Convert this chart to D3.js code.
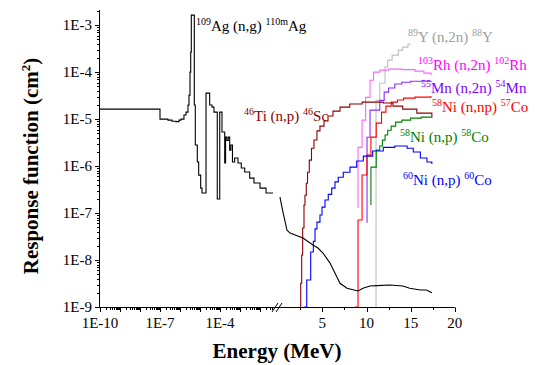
<!DOCTYPE html>
<html>
<head>
<meta charset="utf-8">
<script src="https://cdn.jsdelivr.net/npm/d3@7"></script>
<style>
  body { margin: 0; background: #fff; }
  text { font-family: "Liberation Serif", "Times New Roman", Times, "DejaVu Serif", serif; }
</style>
</head>
<body>
<div id="chart"></div>
<script>
// Energy in MeV, response in cm^2

// 109Ag (n,g) 110mAg, low-energy part (log axis)
const agLowE = [1e-10, 1e-7, 2.5e-7, 4.0e-7, 6.3e-7, 8.9e-7, 1.12e-6, 1.58e-6, 2.0e-6, 2.51e-6,
  2.82e-6, 3.16e-6, 3.43e-6, 3.67e-6, 5.19e-6, 5.82e-6, 7.33e-6, 8.6e-6, 1.08e-5, 1.26e-5,
  2.0e-5, 3.05e-5, 3.98e-5, 5.0e-5, 7.3e-5, 9.7e-5, 1.26e-4, 1.72e-4, 1.9e-4, 2.2e-4,
  2.6e-4, 3.05e-4, 3.5e-4, 4.2e-4, 5.4e-4, 7.9e-4, 1.16e-3, 1.72e-3, 3.05e-3, 5.0e-3,
  1.0e-2, 2.0e-2, 4.5e-2];
const agLowR = [1.63e-5, 1.0e-5, 9.5e-6, 9.0e-6, 8.85e-6, 9.5e-6, 1.0e-5, 1.22e-5, 1.41e-5, 1.99e-5,
  3.24e-5, 1.0e-4, 2.67e-4, 1.63e-3, 1.99e-5, 2.8e-6, 1.22e-6, 6.4e-7, 3.4e-7, 2.67e-7,
  3.57e-5, 1.99e-5, 1.8e-5, 1.41e-5, 1.99e-7, 1.41e-5, 5.3e-6, 1.16e-6, 4.14e-6, 3.5e-6,
  4.14e-6, 2.19e-6, 2.8e-6, 1.22e-6, 1.48e-6, 1.16e-6, 9.1e-7, 7.45e-7, 5.55e-7, 4.35e-7,
  3.4e-7, 2.67e-7, 2.67e-7];

// 109Ag (n,g) 110mAg, fast part (linear axis)
const agHighE = [0.2, 0.54, 1.0, 1.34, 2.81, 3.94, 4.5, 5.07, 5.87, 6.66, 7.0, 7.79, 9.04, 9.6,
  10.4, 11.2, 12.66, 14.1, 14.9, 16.1, 16.8, 17.4];
const agHighR = [2.19e-7, 1.05e-7, 4.3e-8, 3.75e-8, 2.95e-8, 2.09e-8, 1.8e-8, 1.41e-8, 8.6e-9, 4.3e-9,
  3.2e-9, 2.5e-9, 2.19e-9, 2.5e-9, 2.8e-9, 2.85e-9, 2.94e-9, 2.8e-9, 2.5e-9, 2.3e-9, 2.3e-9, 2.0e-9];

// 46Ti (n,p) 46Sc
const tiE = [2.55, 2.55, 2.66, 2.77, 2.92, 3.03, 3.18, 3.32, 3.52, 3.77, 4.05, 4.39, 4.73, 5.19,
  5.64, 6.2, 7.0, 8.1, 9.5, 10.7, 11.9, 13.0, 14.1, 15.7, 17.4];
const tiR = [1e-9, 3.2e-9, 1.28e-8, 4.8e-8, 1.48e-7, 2.4e-7, 4.3e-7, 7.4e-7, 1.34e-6, 2.4e-6, 3.6e-6,
  5.6e-6, 7.1e-6, 9.1e-6, 1.16e-5, 1.48e-5, 1.8e-5, 2.1e-5, 2.3e-5, 2.3e-5, 2.2e-5, 1.89e-5,
  1.63e-5, 1.34e-5, 1.05e-5];

// 60Ni (n,p) 60Co
const ni60E = [2.98, 3.23, 3.68, 3.98, 4.17, 4.39, 4.73, 4.96, 5.3, 5.67, 6.06, 6.43, 6.8, 7.37,
  8.13, 8.89, 9.64, 10.7, 11.9, 13.2, 14.6, 15.3, 16.1, 16.85, 17.4];
const ni60R = [1e-9, 3.75e-9, 1.48e-8, 2.5e-8, 4.6e-8, 6.4e-8, 9.1e-8, 1.34e-7, 1.89e-7, 2.5e-7,
  3.4e-7, 4.6e-7, 5.8e-7, 7.4e-7, 9.5e-7, 1.28e-6, 1.63e-6, 2.09e-6, 2.5e-6, 2.67e-6, 2.4e-6,
  1.99e-6, 1.48e-6, 1.22e-6, 1.1e-6];

// 58Ni (n,np) 57Co
const ninpE = [8.7, 9.04, 9.5, 10.05, 10.5, 11.1, 11.7, 12.2, 12.8, 13.5, 14.2, 15.5, 17.3];
const ninpR = [1e-9, 7.1e-8, 6.45e-7, 1.71e-6, 4.14e-6, 8.2e-6, 1.41e-5, 1.89e-5, 2.3e-5, 2.54e-5,
  2.8e-5, 2.94e-5, 3.1e-5];

// 58Ni (n,p) 58Co (high-energy part shown)
const ni58E = [10.5, 10.5, 11.1, 11.5, 11.8, 12.1, 12.4, 12.8, 13.3, 14.0, 15.0, 16.2, 17.3];
const ni58R = [1.48e-7, 9.5e-7, 2.19e-6, 2.67e-6, 3.57e-6, 4.57e-6, 5.8e-6, 7.1e-6, 8.6e-6, 9.5e-6,
  1.05e-5, 1.1e-5, 1.1e-5];

// 103Rh (n,2n) 102Rh
const rhE = [9.04, 9.04, 9.5, 9.9, 10.4, 10.8, 11.5, 12.5, 14.0, 15.5, 16.5, 17.3];
const rhR = [1.3e-7, 2.5e-6, 9.5e-6, 2.9e-5, 6.7e-5, 1.0e-4, 1.1e-4, 1.16e-4, 1.13e-4, 1.05e-4,
  9.5e-5, 8.7e-5];

// 55Mn (n,2n) 54Mn
const mnE = [10.06, 10.06, 10.4, 11.5, 12.0, 12.5, 13.2, 14.0, 15.0, 16.5, 17.3];
const mnR = [6.2e-8, 4.1e-6, 1.55e-5, 2.5e-5, 3.75e-5, 4.6e-5, 5.6e-5, 6.1e-5, 6.4e-5, 6.4e-5, 6.1e-5];

// 89Y (n,2n) 88Y
const yE = [11.08, 11.08, 11.5, 12.1, 12.4, 12.9, 13.6, 14.1, 14.7, 15.0];
const yR = [1e-9, 2.5e-5, 5.8e-5, 1.28e-4, 1.8e-4, 2.3e-4, 2.94e-4, 3.4e-4, 3.95e-4, 3.95e-4];

const yTickLabels = ['1E-9', '1E-8', '1E-7', '1E-6', '1E-5', '1E-4', '1E-3'];
const xLogTickLabels = ['1E-10', '1E-7', '1E-4'];
const xLinTicks = [5, 10, 15, 20];

const FONT = '"Liberation Serif", "Times New Roman", Times, "DejaVu Serif", serif';
const zip = (es, rs) => es.map((e, i) => ({ e, r: rs[i] }));

const W = 541, H = 365;
const svg = d3.select('#chart').append('svg').attr('width', W).attr('height', H)
  .attr('font-family', FONT);
svg.append('rect').attr('width', W).attr('height', H).attr('fill', '#fff');

const y = d3.scaleLog().domain([1e-9, 2.1e-3]).range([307, 10]);
const xLog = d3.scaleLog().domain([1e-10, 1e-1]).range([100, 280]);
const xLin = d3.scaleLinear().domain([0, 20]).range([278.2, 454.8]);

const stepLin = d3.line().x(d => xLin(d.e)).y(d => y(d.r)).curve(d3.curveStepAfter);

// series, drawn back to front
const series = [
  { data: zip(yE, yR), color: '#c0c0c0' },
  { data: zip(rhE, rhR), color: '#ff66ff' },
  { data: zip(mnE, mnR), color: '#8a2cff' },
  { data: zip(ni58E, ni58R), color: '#008000' },
  { data: zip(ninpE, ninpR), color: '#ff0000' },
  { data: zip(tiE, tiR), color: '#8b0000' },
  { data: zip(ni60E, ni60R), color: '#0000ff' }
];

const g = svg.append('g');
series.forEach(s => {
  g.append('path').attr('d', stepLin(s.data))
    .attr('fill', 'none').attr('stroke', s.color).attr('stroke-width', 1.1);
});

// Ag: log part as steps, fast part as a line
g.append('path')
  .attr('d', d3.line().x(d => xLog(d.e)).y(d => y(d.r)).curve(d3.curveStepAfter)(zip(agLowE, agLowR)))
  .attr('fill', 'none').attr('stroke', '#000').attr('stroke-width', 1.1);
g.append('path')
  .attr('d', d3.line().x(d => xLin(d.e)).y(d => y(d.r))(zip(agHighE, agHighR)))
  .attr('fill', 'none').attr('stroke', '#000').attr('stroke-width', 1.1);

// Axes
const ax = svg.append('g').attr('stroke', '#000').attr('stroke-width', 1);
ax.append('line').attr('x1', 99.5).attr('x2', 99.5).attr('y1', y.range()[1]).attr('y2', 307.5);
ax.append('line').attr('x1', 99.5).attr('x2', xLin(20)).attr('y1', 307.5).attr('y2', 307.5);

// y ticks
for (let p = -9; p <= -3; p++) {
  for (let m = 1; m <= 9; m++) {
    const v = m * Math.pow(10, p);
    if (v > y.domain()[1]) break;
    const yy = Math.round(y(v)) + 0.5;
    ax.append('line').attr('x1', m === 1 ? 95 : 97).attr('x2', 99.5).attr('y1', yy).attr('y2', yy);
  }
}
svg.append('g').selectAll('text').data(yTickLabels).join('text')
  .attr('font-family', FONT)
  .attr('x', 92).attr('y', (d, i) => y(Math.pow(10, -9 + i))).attr('dy', '0.35em')
  .attr('text-anchor', 'end').attr('font-size', 15).text(d => d);

// x log ticks
for (let p = -10; p <= -2; p++) {
  for (let m = 1; m <= 9; m++) {
    const v = m * Math.pow(10, p);
    if (v > 4.2e-2) break;
    const xx = Math.round(xLog(v)) + 0.5;
    ax.append('line').attr('x1', xx).attr('x2', xx).attr('y1', 307.5).attr('y2', m === 1 ? 312 : 310);
  }
}
svg.append('g').selectAll('text').data(xLogTickLabels).join('text')
  .attr('font-family', FONT)
  .attr('x', (d, i) => xLog(Math.pow(10, -10 + 3 * i))).attr('y', 328)
  .attr('text-anchor', 'middle').attr('font-size', 15).text(d => d);

// x linear ticks
[2.5, 5, 7.5, 10, 12.5, 15, 17.5, 20].forEach(v => {
  const xx = Math.round(xLin(v)) + 0.5;
  ax.append('line').attr('x1', xx).attr('x2', xx).attr('y1', 307.5).attr('y2', v % 5 === 0 ? 312 : 310);
});
svg.append('g').selectAll('text').data(xLinTicks).join('text')
  .attr('font-family', FONT)
  .attr('x', d => xLin(d)).attr('y', 328)
  .attr('text-anchor', 'middle').attr('font-size', 15).text(d => d);

// axis break marks
[275, 279].forEach(bx => {
  ax.append('line').attr('x1', bx - 3).attr('y1', 312).attr('x2', bx + 3).attr('y2', 303);
});

// Titles
svg.append('text').attr('font-family', FONT).attr('x', 277).attr('y', 358).attr('text-anchor', 'middle')
  .attr('font-size', 21).attr('font-weight', 'bold').text('Energy (MeV)');
const yt = svg.append('text').attr('font-family', FONT).attr('transform', 'translate(38,166) rotate(-90)')
  .attr('text-anchor', 'middle').attr('font-size', 21).attr('font-weight', 'bold');
yt.append('tspan').text('Response function (cm');
yt.append('tspan').attr('font-size', 13).attr('dy', -8).text('2');
yt.append('tspan').attr('dy', 8).text(')');

// Reaction labels
const annotations = [
  { parts: ['109', 'Ag (n,g) ', '110m', 'Ag'], color: '#000', x: 196, y: 31 },
  { parts: ['89', 'Y (n,2n) ', '88', 'Y'], color: '#a0a0a0', x: 408, y: 42 },
  { parts: ['103', 'Rh (n,2n) ', '102', 'Rh'], color: '#ff00ff', x: 418, y: 70 },
  { parts: ['55', 'Mn (n,2n) ', '54', 'Mn'], color: '#8000ff', x: 421, y: 93 },
  { parts: ['58', 'Ni (n,np) ', '57', 'Co'], color: '#ff0000', x: 432, y: 112 },
  { parts: ['46', 'Ti (n,p) ', '46', 'Sc'], color: '#8b0000', x: 244, y: 121 },
  { parts: ['58', 'Ni (n,p) ', '58', 'Co'], color: '#008000', x: 400, y: 142 },
  { parts: ['60', 'Ni (n,p) ', '60', 'Co'], color: '#0000ff', x: 403, y: 185 }
];
annotations.forEach(a => {
  const t = svg.append('text').attr('font-family', FONT)
    .attr('x', a.x).attr('y', a.y).attr('fill', a.color).attr('font-size', 15);
  a.parts.forEach((p, i) => {
    const sup = i % 2 === 0;
    t.append('tspan').attr('font-size', sup ? 10 : 15)
      .attr('dy', i === 0 ? -6 : (sup ? -6 : 6)).text(p);
  });
});
</script>
</body>
</html>
